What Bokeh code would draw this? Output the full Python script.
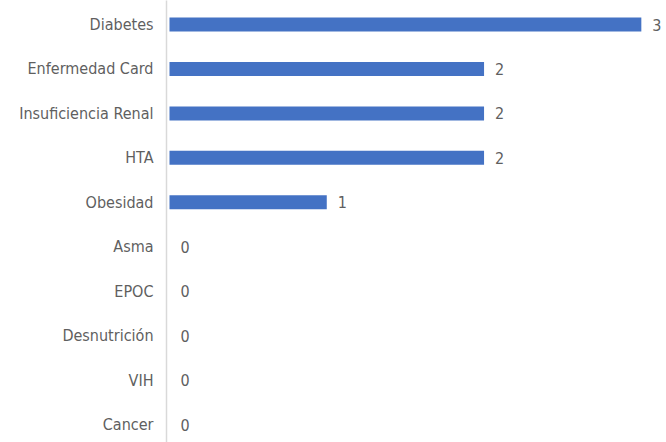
from bokeh.plotting import figure
from bokeh.models import Range1d, FixedTicker, ColumnDataSource
from bokeh.core.properties import value
from bokeh.embed import file_html
from bokeh.resources import INLINE

categories = ["Diabetes", "Enfermedad Card", "Insuficiencia Renal", "HTA", "Obesidad",
              "Asma", "EPOC", "Desnutrición", "VIH", "Cancer"]
counts = [3, 2, 2, 2, 1, 0, 0, 0, 0, 0]

FONT = "DejaVu Sans Condensed, sans-serif"
TXT = "#5f5f5f"

idx = list(range(len(categories)))
src = ColumnDataSource(dict(y=idx, v=counts, lab=[str(c) for c in counts]))

p = figure(width=666, height=442, output_backend="svg", toolbar_location=None,
           x_range=Range1d(-0.019, 3.16), y_range=Range1d(9.405, -0.54),
           min_border_left=166, min_border_right=0, min_border_top=0, min_border_bottom=0)
p.outline_line_color = None
p.xgrid.visible = False
p.ygrid.visible = False
p.xaxis.visible = False

p.hbar(y="y", left=0, right="v", height=0.315, fill_color="#4472C4", line_color=None, source=src)
p.text(x="v", y="y", text="lab", source=src, x_offset=11, text_align="left",
       text_baseline="middle", text_color=TXT, text_font=value(FONT), text_font_size="16px")

ax = p.yaxis[0]
ax.ticker = FixedTicker(ticks=idx)
ax.major_label_overrides = {i: c for i, c in zip(idx, categories)}
ax.axis_line_color = "#d9d9d9"
ax.axis_line_width = 1.5
ax.major_tick_line_color = None
ax.minor_tick_line_color = None
ax.major_label_standoff = 7
ax.major_label_text_color = TXT
ax.major_label_text_font = FONT
ax.major_label_text_font_size = "16px"

open("out.html", "w").write(file_html(p, INLINE))
